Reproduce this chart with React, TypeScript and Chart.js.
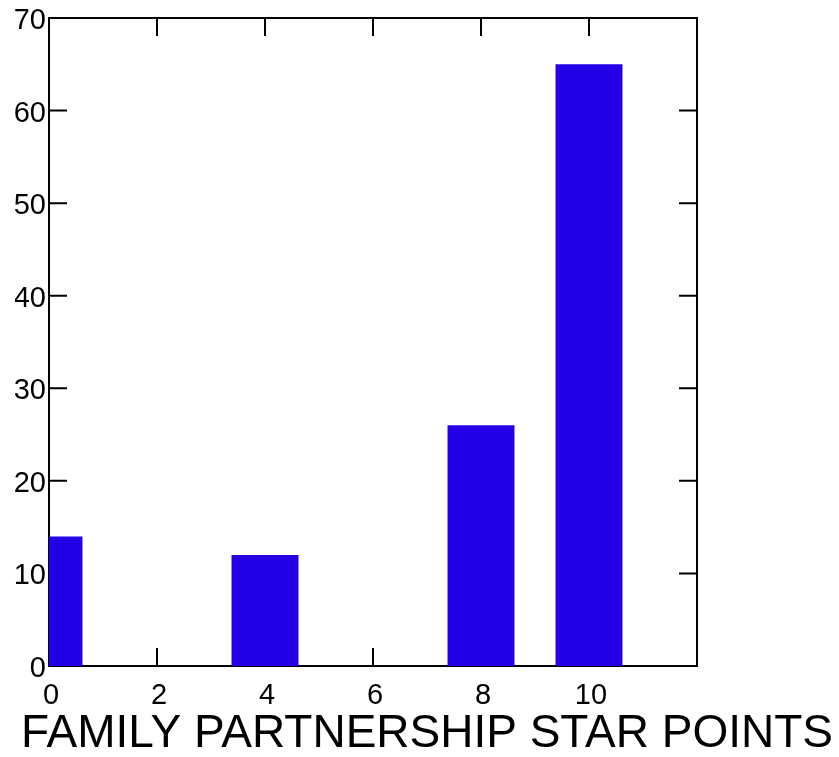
import React, { useEffect, useRef } from "react";
import { Chart, registerables } from "chart.js";

Chart.register(...registerables);

const starPoints = [0, 2, 4, 6, 8, 10];
const familyCounts = [14, 0, 12, 0, 26, 65];
const xAxisTitle = "FAMILY PARTNERSHIP STAR POINTS";
const xMin = 0;
const xMax = 12;
const xStep = 2;
const yMin = 0;
const yMax = 70;
const yStep = 10;

const BAR_COLOR = "#2300e6";
const TICK_LEN = 18;

const framePlugin = {
  id: "frameTicks",
  beforeDatasetsDraw(chart: any) {
    const { ctx, chartArea } = chart;
    const { left, right, top, bottom } = chartArea;
    const x = chart.scales.x;
    const y = chart.scales.y;
    ctx.save();
    ctx.strokeStyle = "#000";
    ctx.lineWidth = 2;
    ctx.beginPath();
    ctx.rect(left, top, right - left, bottom - top);
    for (const t of x.ticks) {
      const px = x.getPixelForValue(t.value);
      ctx.moveTo(px, bottom);
      ctx.lineTo(px, bottom - TICK_LEN);
      ctx.moveTo(px, top);
      ctx.lineTo(px, top + TICK_LEN);
    }
    for (const t of y.ticks) {
      const py = y.getPixelForValue(t.value);
      ctx.moveTo(left, py);
      ctx.lineTo(left + TICK_LEN, py);
      ctx.moveTo(right, py);
      ctx.lineTo(right - TICK_LEN, py);
    }
    ctx.stroke();
    ctx.restore();
  },
};

export default function App() {
  const canvasRef = useRef<HTMLCanvasElement | null>(null);

  useEffect(() => {
    if (!canvasRef.current) return;
    Chart.defaults.font.family = "'Liberation Sans', Arial, sans-serif";
    Chart.defaults.color = "#000";
    const chart = new Chart(canvasRef.current, {
      type: "bar",
      data: {
        datasets: [
          {
            data: starPoints.map((v, i) => ({ x: v, y: familyCounts[i] })),
            backgroundColor: BAR_COLOR,
            borderWidth: 0,
            categoryPercentage: 1,
            barPercentage: 0.62,
            clip: 0,
          } as any,
        ],
      },
      options: {
        responsive: false,
        animation: false,
        layout: { padding: { top: 18, left: 15, right: 0, bottom: 0 } },
        plugins: {
          legend: { display: false },
          tooltip: { enabled: false },
          title: {
            display: true,
            position: "bottom",
            text: xAxisTitle,
            color: "#000",
            font: { size: 46, weight: "normal", lineHeight: 1 },
            padding: { top: 0, bottom: 0 },
          },
        },
        scales: {
          x: {
            type: "linear",
            min: xMin,
            max: xMax,
            offset: false,
            grid: { display: false, drawTicks: false, offset: false },
            border: { display: false },
            ticks: {
              stepSize: xStep,
              autoSkip: false,
              maxRotation: 0,
              padding: 13,
              labelOffset: 2,
              font: { size: 29 },
              color: "#000",
              callback: (v: any) => (Number(v) === xMax ? "" : String(v)),
            },
            afterFit: (s: any) => {
              s.height = 45;
            },
          },
          y: {
            type: "linear",
            min: yMin,
            max: yMax,
            grid: { display: false, drawTicks: false },
            border: { display: false },
            ticks: {
              stepSize: yStep,
              padding: 3,
              labelOffset: 3,
              font: { size: 29 },
              color: "#000",
            },
            afterFit: (s: any) => {
              s.width = 34;
              s.paddingTop = 0;
              s.paddingBottom = 0;
            },
          },
          y2: {
            type: "linear",
            position: "right",
            display: true,
            grid: { display: false, drawTicks: false },
            border: { display: false },
            ticks: { display: false },
            afterFit: (s: any) => {
              s.width = 142;
            },
          },
        },
      } as any,
      plugins: [framePlugin],
    });
    return () => chart.destroy();
  }, []);

  return (
    <div style={{ position: "fixed", left: 0, top: 0, width: 839, height: 757, background: "#fff" }}>
      <canvas ref={canvasRef} width={839} height={757} style={{ display: "block" }} />
    </div>
  );
}
